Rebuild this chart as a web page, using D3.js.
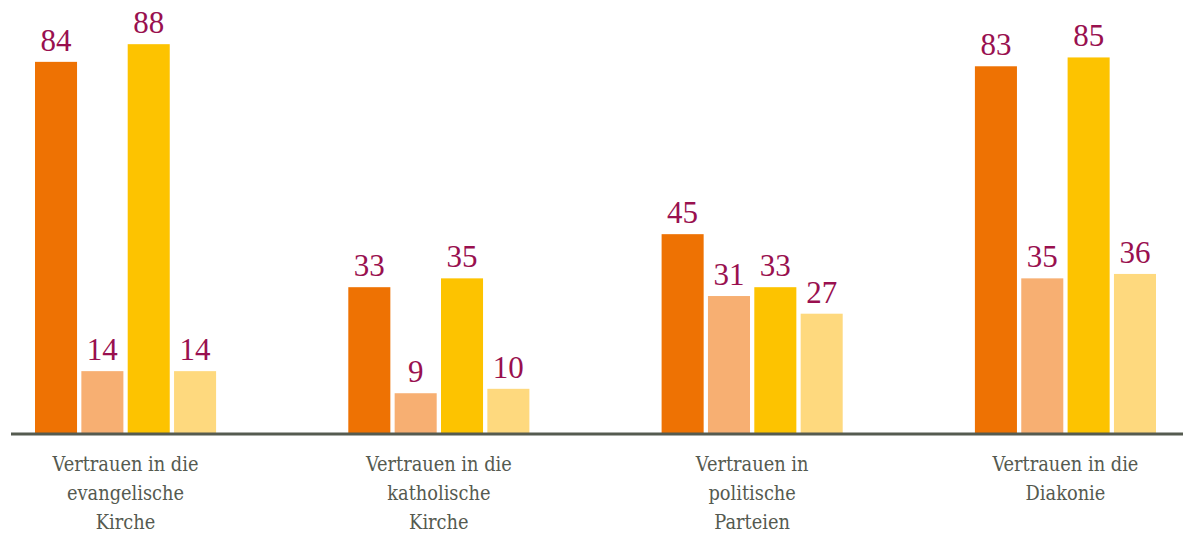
<!DOCTYPE html>
<html><head><meta charset="utf-8">
<script src="https://cdn.jsdelivr.net/npm/d3@7"></script>
<style>body{margin:0;background:#fff}svg{display:block}</style>
</head><body>
<script>
const categories = [["Vertrauen in die","evangelische","Kirche"],["Vertrauen in die","katholische","Kirche"],["Vertrauen in","politische","Parteien"],["Vertrauen in die","Diakonie"]];
const seriesNames = ["s1","s2","s3","s4"];
const series1 = [84,33,45,83];
const series2 = [14,9,31,35];
const series3 = [88,35,33,85];
const series4 = [14,10,27,36];
const colors = ["#ee7203","#f7af72","#fdc300","#fed97e"];

const W=1183,H=535;
const svg=d3.select("body").append("svg").attr("width",W).attr("height",H);
const keys=categories.map((c,i)=>i);
const x0=d3.scaleBand().domain(keys).range([35,1156]).paddingInner(0.422).paddingOuter(0);
const x1=d3.scaleBand().domain(seriesNames).range([0,x0.bandwidth()]).paddingInner(0.093).paddingOuter(0);
const y=d3.scaleLinear().domain([0,98]).range([433,0]);
const allSeries=[series1,series2,series3,series4];
const data=keys.map(i=>({i,vals:seriesNames.map((s,j)=>({s,j,v:allSeries[j][i]}))}));

const g=svg.selectAll("g.grp").data(data).join("g").attr("class","grp").attr("transform",d=>`translate(${x0(d.i)},0)`);
g.selectAll("rect").data(d=>d.vals).join("rect")
 .attr("x",d=>x1(d.s)).attr("width",x1.bandwidth())
 .attr("y",d=>y(d.v)).attr("height",d=>y(0)-y(d.v)).attr("fill",d=>colors[d.j]);
g.selectAll("text.val").data(d=>d.vals).join("text").attr("class","val")
 .attr("x",d=>x1(d.s)+x1.bandwidth()/2).attr("y",d=>y(d.v)-11)
 .attr("text-anchor","middle").attr("font-family","Liberation Serif").attr("font-size",31)
 .attr("fill","#99104f").text(d=>d.v);

svg.append("line").attr("x1",11).attr("x2",W).attr("y1",434).attr("y2",434).attr("stroke","#555b50").attr("stroke-width",3);

const lab=svg.selectAll("text.cat").data(data).join("text").attr("class","cat")
 .attr("text-anchor","middle").attr("font-family","DejaVu Serif").style("font-stretch","condensed").attr("font-size",19.8).attr("fill","#555a50");
lab.selectAll("tspan").data(d=>categories[d.i].map(t=>({t,c:x0(d.i)+x0.bandwidth()/2}))).join("tspan")
 .attr("x",d=>d.c).attr("y",(d,k)=>471+k*29).text(d=>d.t);
</script>
</body></html>
